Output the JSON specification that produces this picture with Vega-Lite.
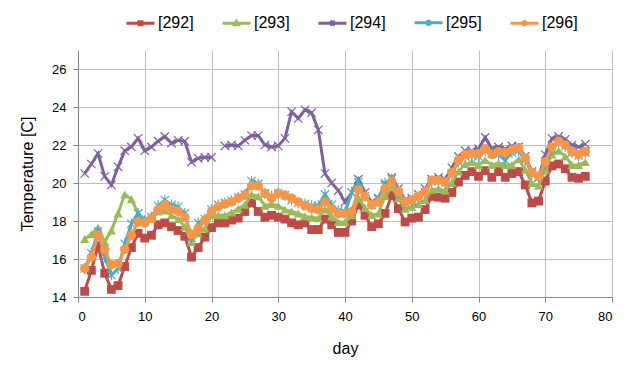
{
  "$schema": "https://vega.github.io/schema/vega-lite/v6.json",
  "width": 534,
  "height": 247,
  "autosize": {"type": "none"},
  "padding": {"left": 78, "top": 50, "right": 26, "bottom": 79},
  "background": "white",
  "data": {"values": [
    {"day":1,"292":14.3,"293":17.05,"294":20.5,"295":15.5,"296":15.5},
    {"day":2,"292":15.4,"293":17.3,"294":21.0,"295":16.3,"296":16.1},
    {"day":3,"292":16.7,"293":17.65,"294":21.55,"295":17.45,"296":17.25},
    {"day":4,"292":15.25,"293":16.9,"294":20.35,"295":16.1,"296":16.5},
    {"day":5,"292":14.4,"293":17.5,"294":19.9,"295":15.15,"296":15.7},
    {"day":6,"292":14.6,"293":18.4,"294":20.85,"295":15.5,"296":15.75},
    {"day":7,"292":15.6,"293":19.4,"294":21.7,"295":16.8,"296":16.5},
    {"day":8,"292":16.6,"293":19.15,"294":21.9,"295":17.85,"296":17.25},
    {"day":9,"292":17.35,"293":18.4,"294":22.35,"295":18.4,"296":17.95},
    {"day":10,"292":17.1,"293":18.1,"294":21.7,"295":18.0,"296":17.9},
    {"day":11,"292":17.25,"293":18.1,"294":21.9,"295":18.2,"296":18.15},
    {"day":12,"292":17.8,"293":18.5,"294":22.2,"295":18.8,"296":18.6},
    {"day":13,"292":17.9,"293":18.55,"294":22.45,"295":19.1,"296":18.85},
    {"day":14,"292":17.7,"293":18.3,"294":22.1,"295":18.85,"296":18.6},
    {"day":15,"292":17.5,"293":18.1,"294":22.25,"295":18.75,"296":18.5},
    {"day":16,"292":17.2,"293":17.7,"294":22.2,"295":18.4,"296":18.2},
    {"day":17,"292":16.1,"293":16.9,"294":21.1,"295":17.1,"296":17.3},
    {"day":18,"292":16.6,"293":17.35,"294":21.3,"295":17.9,"296":17.6},
    {"day":19,"292":17.15,"293":17.6,"294":21.35,"295":18.1,"296":18.05},
    {"day":20,"292":17.65,"293":18.3,"294":21.35,"295":18.6,"296":18.5},
    {"day":21,"292":17.9,"293":18.3,"294":null,"295":18.85,"296":18.75},
    {"day":22,"292":17.9,"293":18.3,"294":21.95,"295":18.95,"296":18.9},
    {"day":23,"292":18.05,"293":18.45,"294":22.0,"295":19.05,"296":19.0},
    {"day":24,"292":18.15,"293":18.65,"294":21.95,"295":19.25,"296":19.2},
    {"day":25,"292":18.5,"293":18.85,"294":22.25,"295":19.4,"296":19.35},
    {"day":26,"292":18.95,"293":19.4,"294":22.5,"295":20.1,"296":19.85},
    {"day":27,"292":18.5,"293":19.3,"294":22.5,"295":19.95,"296":19.85},
    {"day":28,"292":18.2,"293":18.8,"294":22.0,"295":19.45,"296":19.45},
    {"day":29,"292":18.3,"293":18.9,"294":21.9,"295":19.3,"296":19.2},
    {"day":30,"292":18.2,"293":18.8,"294":21.95,"295":19.45,"296":19.45},
    {"day":31,"292":18.1,"293":18.6,"294":22.35,"295":19.35,"296":19.35},
    {"day":32,"292":17.9,"293":18.5,"294":23.75,"295":19.1,"296":19.2},
    {"day":33,"292":17.8,"293":18.4,"294":23.4,"295":18.95,"296":19.0},
    {"day":34,"292":17.9,"293":18.25,"294":23.85,"295":18.9,"296":18.8},
    {"day":35,"292":17.55,"293":18.2,"294":23.7,"295":18.8,"296":18.65},
    {"day":36,"292":17.55,"293":18.15,"294":22.8,"295":18.8,"296":18.6},
    {"day":37,"292":18.1,"293":18.6,"294":20.5,"295":19.4,"296":19.0},
    {"day":38,"292":17.8,"293":18.25,"294":20.0,"295":18.85,"296":18.65},
    {"day":39,"292":17.4,"293":17.95,"294":19.6,"295":18.55,"296":18.4},
    {"day":40,"292":17.4,"293":17.95,"294":19.0,"295":18.45,"296":18.4},
    {"day":41,"292":18.0,"293":18.3,"294":19.5,"295":19.5,"296":18.5},
    {"day":42,"292":18.85,"293":19.2,"294":20.2,"295":20.05,"296":19.65},
    {"day":43,"292":18.3,"293":18.7,"294":19.5,"295":19.3,"296":19.3},
    {"day":44,"292":17.7,"293":18.3,"294":19.0,"295":18.85,"296":18.85},
    {"day":45,"292":17.85,"293":18.4,"294":19.2,"295":19.15,"296":19.0},
    {"day":46,"292":18.4,"293":19.3,"294":19.9,"295":20.0,"296":19.7},
    {"day":47,"292":19.35,"293":19.8,"294":20.3,"295":20.2,"296":20.1},
    {"day":48,"292":18.65,"293":19.2,"294":19.7,"295":19.5,"296":19.55},
    {"day":49,"292":17.95,"293":18.65,"294":19.1,"295":18.95,"296":19.0},
    {"day":50,"292":18.15,"293":18.75,"294":19.2,"295":19.05,"296":19.1},
    {"day":51,"292":18.2,"293":18.9,"294":19.4,"295":19.25,"296":19.3},
    {"day":52,"292":18.6,"293":19.1,"294":19.7,"295":19.5,"296":19.55},
    {"day":53,"292":19.3,"293":19.65,"294":20.2,"295":20.1,"296":20.15},
    {"day":54,"292":19.25,"293":19.7,"294":20.3,"295":20.1,"296":20.15},
    {"day":55,"292":19.2,"293":19.6,"294":20.2,"295":20.0,"296":20.05},
    {"day":56,"292":19.5,"293":20.0,"294":20.8,"295":20.5,"296":20.55},
    {"day":57,"292":20.05,"293":20.6,"294":21.4,"295":21.1,"296":21.2},
    {"day":58,"292":20.4,"293":21.0,"294":21.7,"295":21.4,"296":21.5},
    {"day":59,"292":20.6,"293":21.1,"294":21.7,"295":21.45,"296":21.55},
    {"day":60,"292":20.35,"293":20.95,"294":21.8,"295":21.4,"296":21.55},
    {"day":61,"292":20.65,"293":21.2,"294":22.4,"295":21.7,"296":21.8},
    {"day":62,"292":20.3,"293":20.95,"294":21.8,"295":21.55,"296":21.5},
    {"day":63,"292":20.6,"293":21.05,"294":21.9,"295":21.5,"296":21.65},
    {"day":64,"292":20.3,"293":20.95,"294":21.8,"295":21.2,"296":21.6},
    {"day":65,"292":20.5,"293":20.95,"294":21.95,"295":21.6,"296":21.75},
    {"day":66,"292":20.6,"293":21.25,"294":21.9,"295":21.7,"296":21.85},
    {"day":67,"292":19.9,"293":20.7,"294":21.4,"295":21.2,"296":21.3},
    {"day":68,"292":18.95,"293":20.0,"294":20.6,"295":20.5,"296":20.55},
    {"day":69,"292":19.05,"293":19.85,"294":20.3,"295":20.3,"296":20.35},
    {"day":70,"292":20.1,"293":20.7,"294":21.5,"295":21.0,"296":21.1},
    {"day":71,"292":20.9,"293":21.5,"294":22.35,"295":21.8,"296":21.9},
    {"day":72,"292":21.0,"293":21.7,"294":22.45,"295":22.1,"296":22.2},
    {"day":73,"292":20.75,"293":21.4,"294":22.3,"295":21.95,"296":22.0},
    {"day":74,"292":20.3,"293":20.95,"294":22.0,"295":21.6,"296":21.65},
    {"day":75,"292":20.25,"293":20.95,"294":21.9,"295":21.45,"296":21.5},
    {"day":76,"292":20.35,"293":21.1,"294":22.05,"295":21.6,"296":21.65}
  ]},
  "transform": [{"fold": ["292", "293", "294", "295", "296"], "as": ["sensor", "temp"]}],
  "encoding": {
    "x": {
      "field": "day", "type": "quantitative",
      "scale": {"domain": [0, 80], "nice": false, "zero": false},
      "axis": {"title": "day", "values": [0, 10, 20, 30, 40, 50, 60, 70, 80], "grid": true, "labelPadding": 8, "titlePadding": 17}
    },
    "y": {
      "field": "temp", "type": "quantitative",
      "scale": {"domain": [14, 27], "nice": false, "zero": false},
      "axis": {"title": "Temperature [C]", "values": [14, 16, 18, 20, 22, 24, 26], "grid": true, "labelPadding": 7, "titlePadding": 16}
    },
    "color": {
      "field": "sensor", "type": "nominal",
      "scale": {"domain": ["292", "293", "294", "295", "296"], "range": ["#BE4B48", "#9BBB59", "#7D60A0", "#4BACC6", "#F79646"]},
      "legend": {
        "orient": "none", "legendX": 54, "legendY": -36, "direction": "horizontal", "title": null,
        "padding": 0, "symbolSize": 196, "labelOffset": 9, "columnPadding": 22,
        "labelFontSize": 16, "labelFont": "Liberation Sans", "labelColor": "#000",
        "labelExpr": "'[' + datum.label + ']'",
        "encode": {"symbols": {"update": {
          "shape": {"signal": "datum.value === '292' ? 'M-2,0L2,0M-0.22,-0.22L0.22,-0.22L0.22,0.22L-0.22,0.22Z' : datum.value === '293' ? 'M-2,0L2,0M0,-0.27L0.27,0.22L-0.27,0.22Z' : datum.value === '294' ? 'M-2,0L2,0M-0.32,-0.32L0.32,0.32M-0.32,0.32L0.32,-0.32' : datum.value === '295' ? 'M-2,0L2,0M-0.32,-0.32L0.32,0.32M-0.32,0.32L0.32,-0.32M0,-0.4L0,0.4' : 'M-2,0L2,0M0.25,0A0.25,0.25 0 1 1 -0.25,0A0.25,0.25 0 1 1 0.25,0Z'"},
          "fill": {"signal": "scale('color', datum.value)"},
          "stroke": {"signal": "scale('color', datum.value)"},
          "strokeWidth": {"value": 3},
          "opacity": {"value": 1},
          "fillOpacity": {"value": 1}
        }}}
      }
    }
  },
  "layer": [
    {"transform": [{"filter": "datum.sensor === '292'"}], "mark": {"type": "line", "strokeWidth": 3}},
    {"transform": [{"filter": "datum.sensor === '292'"}], "mark": {"type": "point", "filled": true, "shape": "square", "size": 78, "opacity": 1}},
    {"transform": [{"filter": "datum.sensor === '293'"}], "mark": {"type": "line", "strokeWidth": 3}},
    {"transform": [{"filter": "datum.sensor === '293'"}], "mark": {"type": "point", "filled": true, "shape": "triangle-up", "size": 85, "opacity": 1}},
    {"transform": [{"filter": "datum.sensor === '294'"}], "mark": {"type": "line", "strokeWidth": 3}},
    {"transform": [{"filter": "datum.sensor === '294'"}], "mark": {"type": "point", "filled": false, "shape": "M-1,-1L1,1M-1,1L1,-1", "size": 70, "strokeWidth": 1.2, "opacity": 1}},
    {"transform": [{"filter": "datum.sensor === '295'"}], "mark": {"type": "line", "strokeWidth": 3}},
    {"transform": [{"filter": "datum.sensor === '295'"}], "mark": {"type": "point", "filled": false, "shape": "M-1,-1L1,1M-1,1L1,-1M0,-1.3L0,1.3", "size": 70, "strokeWidth": 1.2, "opacity": 1}},
    {"transform": [{"filter": "datum.sensor === '296'"}], "mark": {"type": "line", "strokeWidth": 3}},
    {"transform": [{"filter": "datum.sensor === '296'"}], "mark": {"type": "point", "filled": true, "shape": "circle", "size": 90, "opacity": 1}}
  ],
  "config": {
    "font": "Liberation Sans",
    "view": {"stroke": null},
    "axis": {
      "labelFont": "Liberation Sans", "titleFont": "Liberation Sans",
      "labelFontSize": 13, "titleFontSize": 16, "titleFontWeight": "normal",
      "labelColor": "#000", "titleColor": "#000",
      "domainColor": "#868686", "tickColor": "#868686", "gridColor": "#BFBFBF",
      "tickSize": 5, "domainWidth": 1, "gridWidth": 1
    }
  }
}
